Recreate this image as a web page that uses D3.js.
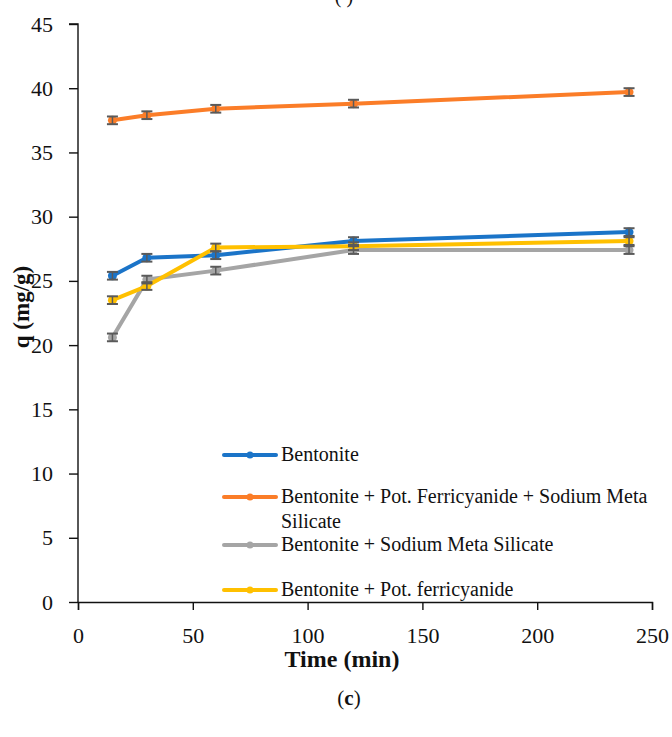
<!DOCTYPE html>
<html>
<head>
<meta charset="utf-8">
<script src="https://cdn.jsdelivr.net/npm/d3@7"></script>
<style>
  html, body { margin: 0; padding: 0; background: #fff; }
  svg { display: block; }
  svg text { font-family: "Liberation Serif", "DejaVu Serif", serif; fill: #111; }
</style>
</head>
<body>
<svg id="chart" width="672" height="737"></svg>
<script>
// Adsorption capacity over contact time for four sorbents
const times = [15, 30, 60, 120, 240];
const seriesNames = [
  "Bentonite",
  "Bentonite + Pot. Ferricyanide + Sodium Meta Silicate",
  "Bentonite + Sodium Meta Silicate",
  "Bentonite + Pot. ferricyanide"
];
const bentonite      = [25.4, 26.8, 27.0, 28.1, 28.8];
const bentFerriSil   = [37.5, 37.9, 38.4, 38.8, 39.7];
const bentSilicate   = [20.6, 25.1, 25.8, 27.4, 27.4];
const bentFerri      = [23.5, 24.6, 27.6, 27.7, 28.1];
const errors         = [0.3, 0.3, 0.3, 0.3, 0.3];
const seriesColors   = ["#1b74c8", "#fb7d28", "#a5a5a5", "#ffc000"];
const xTicks = [0, 50, 100, 150, 200, 250];
const yTicks = [0, 5, 10, 15, 20, 25, 30, 35, 40, 45];

const series = [bentonite, bentFerriSil, bentSilicate, bentFerri].map((vals, i) => ({
  name: seriesNames[i], color: seriesColors[i],
  points: vals.map((v, j) => ({ t: times[j], q: v, e: errors[j] }))
}));

const svg = d3.select("#chart");
const x = d3.scaleLinear().domain([0, 250]).range([78, 652]);
const y = d3.scaleLinear().domain([0, 45]).range([602, 24]);

// axes
const xAxis = svg.append("g").attr("transform", "translate(0,602)")
  .call(d3.axisBottom(x).tickValues(xTicks).tickSize(8).tickPadding(17));
const yAxis = svg.append("g").attr("transform", "translate(78,0)")
  .call(d3.axisLeft(y).tickValues(yTicks).tickSize(9).tickPadding(16));
[xAxis, yAxis].forEach(a => {
  a.attr("font-family", null);
  a.selectAll("path").attr("stroke", "#111").attr("stroke-width", 1.4);
  a.selectAll("line").attr("stroke", "#111").attr("stroke-width", 1.4);
  a.selectAll("text").style("font-size", "22px").attr("fill", "#111");
});
yAxis.select(".domain").attr("d", "M0,602V24H-9");

// lines
const line = d3.line().x(d => x(d.t)).y(d => y(d.q));
const plot = svg.append("g");
series.forEach(s => {
  plot.append("path").datum(s.points)
    .attr("fill", "none").attr("stroke", s.color)
    .attr("stroke-width", 4).attr("stroke-linejoin", "round")
    .attr("d", line);
  plot.selectAll(null).data(s.points).enter().append("circle")
    .attr("cx", d => x(d.t)).attr("cy", d => y(d.q)).attr("r", 4.5)
    .attr("fill", s.color);
});

// error bars
series.forEach(s => {
  const g = plot.append("g").attr("stroke", "#5a5a5a").attr("stroke-width", 2);
  s.points.forEach(d => {
    const cx = x(d.t);
    g.append("line").attr("x1", cx).attr("x2", cx)
      .attr("y1", y(d.q + d.e)).attr("y2", y(d.q - d.e)).attr("stroke-width", 1.5);
    [d.q + d.e, d.q - d.e].forEach(v => {
      g.append("line").attr("x1", cx - 5.5).attr("x2", cx + 5.5)
        .attr("y1", y(v)).attr("y2", y(v));
    });
  });
});

// legend
const legendRows = [
  { i: 0, y: 455, lines: [seriesNames[0]] },
  { i: 1, y: 497, lines: ["Bentonite + Pot. Ferricyanide + Sodium Meta", "Silicate"] },
  { i: 2, y: 545, lines: [seriesNames[2]] },
  { i: 3, y: 590, lines: [seriesNames[3]] }
];
const legend = svg.append("g");
legendRows.forEach(r => {
  const c = seriesColors[r.i];
  legend.append("line").attr("x1", 224).attr("x2", 276)
    .attr("y1", r.y).attr("y2", r.y)
    .attr("stroke", c).attr("stroke-width", 4).attr("stroke-linecap", "round");
  legend.append("circle").attr("cx", 250).attr("cy", r.y).attr("r", 3.5).attr("fill", c);
  r.lines.forEach((t, k) => {
    legend.append("text").attr("x", 281).attr("y", r.y + 6 + k * 25)
      .style("font-size", "20px").text(t);
  });
});

// axis titles
svg.append("text").attr("transform", "translate(29,307) rotate(-90)")
  .attr("text-anchor", "middle").style("font-size", "23px").style("font-weight", "bold")
  .text("q (mg/g)");
svg.append("text").attr("x", 342).attr("y", 667)
  .attr("text-anchor", "middle").style("font-size", "24px").style("font-weight", "bold")
  .text("Time (min)");

// panel captions
const cap = svg.append("text").attr("x", 349).attr("y", 705)
  .attr("text-anchor", "middle").style("font-size", "21px");
cap.append("tspan").text("(");
cap.append("tspan").style("font-weight", "bold").text("c");
cap.append("tspan").text(")");
svg.append("text").attr("x", 344).attr("y", 3)
  .attr("text-anchor", "middle").style("font-size", "20px").text("( )");
</script>
</body>
</html>
